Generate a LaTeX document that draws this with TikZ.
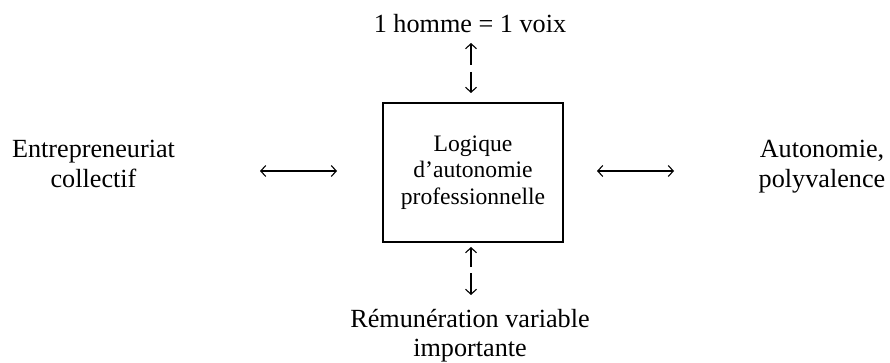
\documentclass[tikz,border=0pt]{standalone}
\usepackage{fontspec}
\setmainfont{Liberation Serif}
\usetikzlibrary{arrows.meta}
\tikzset{
  outer/.style={font=\fontsize{26.2}{30}\selectfont, anchor=base, inner sep=0pt},
  inbox/.style={draw, line width=2pt, minimum width=180pt, minimum height=139pt, inner sep=0pt, align=center, font=\fontsize{23.6}{26.5}\selectfont},
  conn/.style={line width=1.1pt, -{Straight Barb[length=5pt,width=11pt,line width=1.1pt]}},
  dconn/.style={line width=1.1pt, {Straight Barb[length=5pt,width=11pt,line width=1.1pt]}-{Straight Barb[length=5pt,width=11pt,line width=1.1pt]}}
}
\begin{document}
\begin{tikzpicture}[x=1pt,y=-1pt]
\useasboundingbox (0,0) rectangle (890,363);
\node[inbox] (box) at (473,172.5) {Logique\\d’autonomie\\professionnelle};
\node[outer] (top) at (470,33) {1 homme = 1 voix};
\node[outer] (left1) at (93.5,158) {Entrepreneuriat};
\node[outer] (left2) at (93.5,188) {collectif};
\node[outer] (right1) at (822,158) {Autonomie,};
\node[outer] (right2) at (822,188) {polyvalence};
\node[outer] (bot1) at (470,327) {Rémunération variable};
\node[outer] (bot2) at (470,356) {importante};
% horizontal arrows
\coordinate (la) at (260,171); \coordinate (lb) at (337,171);
\coordinate (ra) at (597,171); \coordinate (rb) at (674,171);
\draw[dconn] (la) -- (lb);
\draw[dconn] (ra) -- (rb);
% top vertical arrows
\coordinate (tu1) at (471,65); \coordinate (tu2) at (471,43);
\coordinate (td1) at (471,72); \coordinate (td2) at (471,93);
\draw[conn] (tu1) -- (tu2);
\draw[conn] (td1) -- (td2);
% bottom vertical arrows
\coordinate (bu1) at (471,267); \coordinate (bu2) at (471,247);
\coordinate (bd1) at (471,273); \coordinate (bd2) at (471,295);
\draw[conn] (bu1) -- (bu2);
\draw[conn] (bd1) -- (bd2);
\end{tikzpicture}
\end{document}
